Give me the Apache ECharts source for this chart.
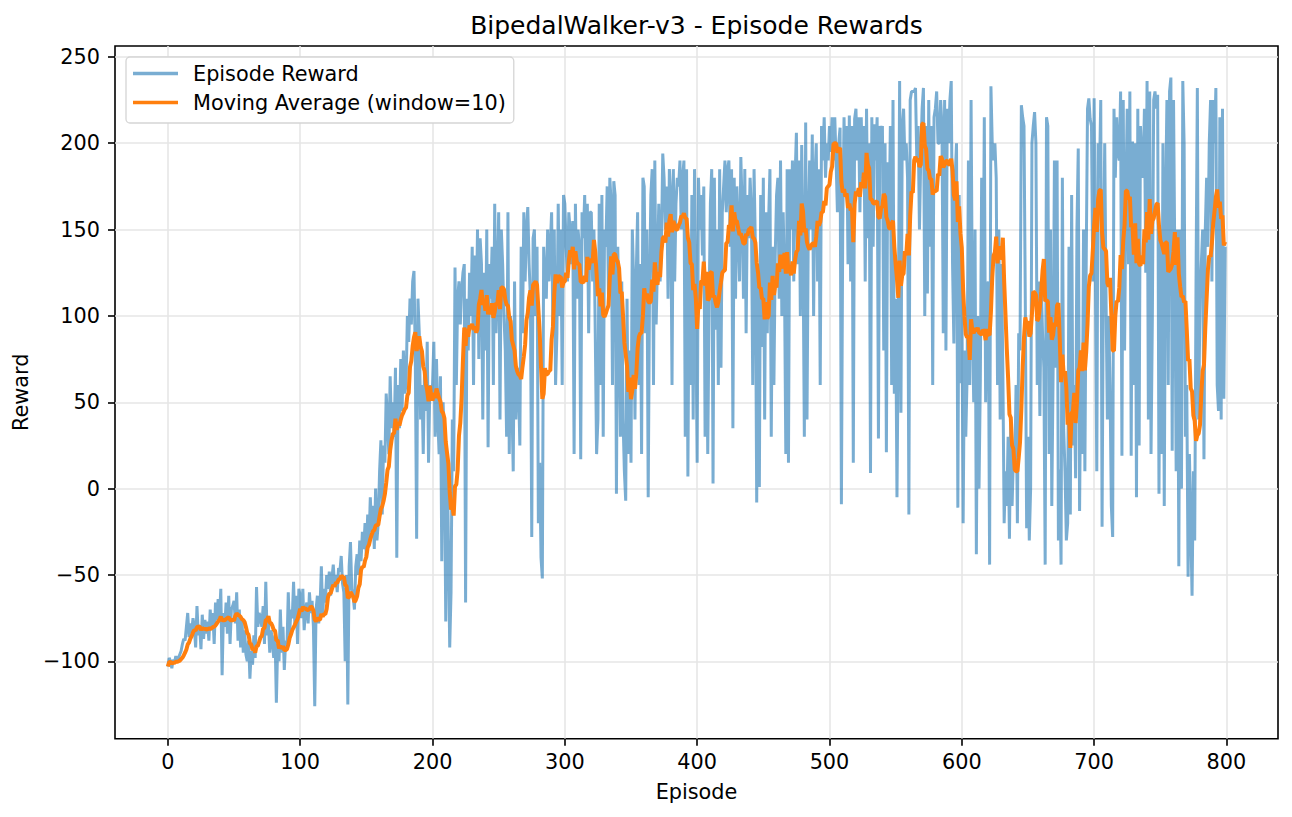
<!DOCTYPE html>
<html>
<head>
<meta charset="utf-8">
<script src="https://cdn.jsdelivr.net/npm/echarts@6/dist/echarts.min.js"></script>
<style>
html,body{margin:0;padding:0;background:#fff;}
#chart{width:1292px;height:817px;}
</style>
</head>
<body>
<div id="chart"></div>
<script>
// ---- data ----
const chartTitle = 'BipedalWalker-v3 - Episode Rewards';
const seriesNames = ['Episode Reward', 'Moving Average (window=10)'];
const xAxisName = 'Episode';
const yAxisName = 'Reward';
const windowSize = 10;
const xTicks = [0, 100, 200, 300, 400, 500, 600, 700, 800];
const yTicks = [-100, -50, 0, 50, 100, 150, 200, 250];

const episodeRewards = [
 -103,-98,-100,-104,-99,-101,-97,-100,-98,-96,
 -94,-90,-87,-88,-80,-72,-86,-78,-83,-75,
 -80,-92,-68,-85,-79,-93,-73,-87,-76,-84,
 -77,-88,-70,-82,-72,-90,-66,-76,-64,-75,
 -58,-108,-72,-80,-66,-84,-62,-90,-70,-68,
 -65,-78,-60,-88,-70,-92,-75,-95,-82,-96,
 -100,-88,-110,-94,-102,-85,-98,-57,-80,-72,
 -75,-80,-68,-90,-54,-85,-78,-95,-82,-88,
 -98,-85,-124,-90,-100,-70,-95,-80,-105,-88,
 -92,-60,-85,-70,-75,-54,-80,-62,-90,-58,
 -62,-75,-58,-82,-70,-66,-78,-60,-72,-65,
 -80,-126,-70,-62,-78,-68,-45,-74,-58,-66,
 -50,-58,-48,-62,-52,-44,-56,-50,-60,-46,
 -48,-39,-55,-60,-100,-50,-125,-45,-31,-58,
 -62,-70,-45,-38,-50,-30,-42,-25,-35,-20,
 -40,-15,-30,-5,-25,-10,-35,0,-30,-20,
 10,28,-15,25,15,55,40,20,65,35,
 50,30,70,-40,60,35,75,45,80,55,
 60,100,85,110,95,120,126,75,-29,110,
 90,40,60,20,70,45,85,15,60,55,
 60,85,30,75,40,20,65,-42,50,25,
 -77,20,-30,-92,-60,40,10,128,60,110,
 120,95,115,125,130,-66,110,80,125,100,
 140,60,135,90,150,75,145,130,40,125,
 80,150,24,130,110,140,60,165,90,120,
 160,40,150,130,100,80,30,160,20,100,
 50,10,120,40,70,60,25,140,90,160,
 120,150,163,130,110,-28,145,150,100,140,
 -20,15,-40,-52,140,120,110,150,120,140,
 160,90,150,60,90,165,100,150,60,170,
 165,140,120,160,150,130,155,20,165,110,
 150,140,17,160,145,170,120,165,90,160,
 160,120,150,90,20,40,165,60,170,30,
 150,140,175,110,180,165,60,178,170,-3,
 140,100,30,120,40,10,-7,110,20,80,
 15,150,120,40,125,160,60,130,20,180,
 175,90,150,-5,115,170,185,60,190,95,
 130,165,120,141,194,180,150,175,110,185,
 170,60,185,120,165,180,175,190,150,180,
 190,30,185,7,138,60,170,40,185,95,
 15,180,150,170,135,175,30,120,20,105,
 165,185,3,180,92,150,60,185,70,160,
 175,190,160,185,190,140,185,35,180,110,
 175,150,120,192,163,110,185,90,170,145,
 180,160,60,185,140,-8,130,1,170,82,
 180,40,160,90,155,185,30,140,60,135,
 170,180,110,190,100,160,120,20,185,15,
 185,150,190,120,180,206,130,190,100,199,
 140,30,212,40,153,190,150,205,100,180,
 200,120,185,60,210,190,215,180,200,190,
 210,195,215,190,215,190,160,200,209,-9,
 150,215,170,210,130,216,120,210,15,214,
 220,190,215,160,215,180,210,120,220,145,
 200,9,215,140,211,190,215,29,210,206,
 210,80,200,21,189,150,210,60,225,55,
 110,-5,90,236,44,210,220,190,200,180,
 -15,225,230,230,230,232,190,210,150,193,
 220,232,100,210,113,225,140,210,60,215,
 220,230,200,200,225,210,90,225,80,220,
 200,225,236,130,84,180,200,-11,170,61,
 120,-20,80,30,65,190,60,225,100,50,
 150,-38,100,0,63,180,90,215,50,115,
 120,-44,233,200,190,200,180,60,150,40,
 130,70,-20,10,-10,30,-29,40,-10,19,
 10,60,-20,90,80,222,215,210,106,-23,
 30,-30,0,200,210,218,200,60,120,42,
 120,90,70,-44,215,210,20,150,-10,69,
 190,70,190,-30,11,-44,180,34,10,-30,
 -20,140,-15,170,25,60,6,150,197,-13,
 80,20,150,10,130,220,226,214,210,120,
 226,120,10,200,180,225,-22,127,200,110,
 40,100,60,-10,-28,220,180,215,195,190,
 230,19,225,80,171,220,130,230,19,201,
 60,200,-5,220,25,210,190,180,220,125,
 236,40,230,20,99,225,230,220,228,-3,
 150,20,200,-10,165,225,60,230,238,22,
 225,130,10,150,-45,150,0,236,200,30,
 60,-51,20,-20,-62,10,-30,120,232,40,
 110,130,150,17,150,180,140,200,225,120,
 225,200,232,60,45,215,40,220,52,140
];

// trailing moving average (window of 10, shorter at the start)
const movingAverage = episodeRewards.map((v, i) => {
  const start = Math.max(0, i - windowSize + 1);
  let s = 0;
  for (let j = start; j <= i; j++) s += episodeRewards[j];
  return s / (i - start + 1);
});

const rewardPoints = episodeRewards.map((v, i) => [i, v]);
const maPoints = movingAverage.map((v, i) => [i, v]);

const FONT = 'DejaVu Sans';
const fmt = v => (v < 0 ? '\u2212' + Math.abs(v) : String(v));

const chart = echarts.init(document.getElementById('chart'), null, {renderer: 'svg', width: 1292, height: 817});
chart.setOption({
  animation: false,
  backgroundColor: '#ffffff',
  textStyle: {fontFamily: FONT},
  title: {
    text: chartTitle,
    left: 696.5,
    top: 13,
    padding: 0,
    textAlign: 'center',
    textStyle: {fontFamily: FONT, fontSize: 25, fontWeight: 'normal', color: '#000'}
  },
  legend: {
    orient: 'vertical',
    left: 126,
    top: 57,
    padding: [6, 8, 10, 7],
    itemGap: 8,
    itemWidth: 45,
    itemHeight: 3.5,
    backgroundColor: '#ffffff',
    borderColor: '#d5d5d5',
    borderWidth: 1.3,
    borderRadius: 4,
    textStyle: {fontFamily: FONT, fontSize: 20.8, color: '#000', padding: [0, 0, 0, 10]},
    data: [
      {name: seriesNames[0], icon: 'rect', itemStyle: {color: 'rgba(31,119,180,0.6)', opacity: 1}},
      {name: seriesNames[1], icon: 'rect', itemStyle: {color: '#ff7f0e', opacity: 1}}
    ]
  },
  grid: {
    left: 115, right: 14, top: 46, bottom: 78.3,
    show: true, borderColor: '#000', borderWidth: 1.6, backgroundColor: 'transparent'
  },
  xAxis: {
    type: 'value',
    min: -39.95, max: 838.95,
    minInterval: 100, maxInterval: 100,
    name: xAxisName,
    nameLocation: 'middle',
    nameGap: 43,
    nameTextStyle: {fontFamily: FONT, fontSize: 20.8, color: '#000'},
    axisLine: {show: false, onZero: false},
    axisTick: {show: true, length: 7, customValues: xTicks, lineStyle: {color: '#000', width: 1.6}},
    axisLabel: {customValues: xTicks, margin: 13, fontFamily: FONT, fontSize: 20.8, color: '#000', formatter: fmt},
    splitLine: {show: true, lineStyle: {color: '#e6e6e6', width: 1.6}}
  },
  yAxis: {
    type: 'value',
    min: -144.8, max: 256.3,
    minInterval: 50, maxInterval: 50,
    name: yAxisName,
    nameLocation: 'middle',
    nameGap: 72,
    nameRotate: 90,
    nameTextStyle: {fontFamily: FONT, fontSize: 20.8, color: '#000'},
    axisLine: {show: false, onZero: false},
    axisTick: {show: true, length: 7, customValues: yTicks, lineStyle: {color: '#000', width: 1.6}},
    axisLabel: {customValues: yTicks, margin: 15, fontFamily: FONT, fontSize: 20.8, color: '#000', formatter: fmt},
    splitLine: {show: true, lineStyle: {color: '#e6e6e6', width: 1.6}}
  },
  series: [
    {
      name: seriesNames[0],
      type: 'line',
      data: rewardPoints,
      symbol: 'none',
      showSymbol: false,
      clip: true,
      lineStyle: {color: '#1f77b4', width: 3, opacity: 0.6},
      itemStyle: {color: '#1f77b4', opacity: 0.6},
      z: 2
    },
    {
      name: seriesNames[1],
      type: 'line',
      data: maPoints,
      symbol: 'none',
      showSymbol: false,
      clip: true,
      lineStyle: {color: '#ff7f0e', width: 4},
      itemStyle: {color: '#ff7f0e'},
      z: 3
    }
  ]
});
</script>
</body>
</html>
